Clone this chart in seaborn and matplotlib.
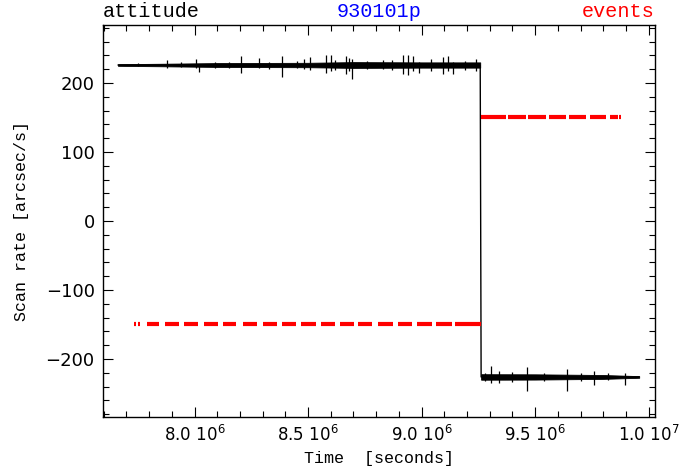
import numpy as np
import pandas as pd
import matplotlib
matplotlib.use("Agg")
import matplotlib.pyplot as plt
import seaborn as sns
from matplotlib.ticker import FixedLocator, MultipleLocator

# ---------------- data (times in units of 1e6 s) ----------------
# attitude scan rate: main trace (level before / after the turn-over)
att_time = [7.663, 9.258, 9.262, 9.958]
att_rate = [226.0, 226.0, -226.0, -226.0]

# noise band of the attitude trace (breakpoints and half-width, arcsec/s)
band_time_top = [7.663, 7.85, 8.10, 8.50, 8.70, 9.00, 9.258]
band_half_top = [1.2, 1.8, 2.8, 3.2, 4.2, 3.8, 3.8]
band_time_bot = [9.262, 9.50, 9.80, 9.958]
band_half_bot = [4.0, 3.8, 2.8, 1.2]

# spikes of the attitude trace: time, lowest and highest value
spike_time = [7.750, 7.880, 7.940, 8.005, 8.020, 8.090, 8.150, 8.204, 8.284, 8.330,
              8.387, 8.450, 8.482, 8.509, 8.578, 8.600, 8.620, 8.666, 8.680, 8.695,
              8.760, 8.830, 8.870, 8.916, 8.938, 8.960, 8.989, 9.040, 9.092, 9.114,
              9.136, 9.190, 9.239,
              9.280, 9.305, 9.342, 9.400, 9.466, 9.540, 9.638, 9.700, 9.760, 9.820,
              9.895]
spike_low = [224, 222, 223, 221, 216, 222, 222, 215, 221, 220,
             208.6, 221, 220, 219, 214, 218, 219, 212.5, 217, 206,
             220, 220, 219, 212.5, 211.5, 218, 214, 218, 212.5, 218,
             212.5, 219, 218,
             -232, -235, -235, -233, -246, -232, -247, -232, -238, -231,
             -238]
spike_high = [229, 233, 230, 234, 228, 231, 231, 239, 236.6, 231,
              239, 232, 235, 237.6, 240, 240.5, 233, 239, 236, 234,
              232, 233, 233, 240.5, 240.5, 239, 231, 234, 237.6, 239,
              230, 232, 235,
              -220, -210, -218, -219, -212, -220, -215, -220, -217, -221,
              -221]

# events: blocks of photon events (start, end) and their scan rate
ev_start = [7.7336, 7.7525, 7.7895, 7.8688, 7.9551, 8.0419, 8.1256, 8.2137, 8.3019,
            8.3869, 8.4706, 8.5560, 8.6411, 8.7217, 8.8098, 8.8966, 8.9790, 9.0653,
            9.1477,
            9.2596, 9.3812, 9.4701, 9.5592, 9.6481, 9.7402, 9.8292, 9.8705]
ev_end = [7.7437, 7.7600, 7.8437, 7.9318, 8.0168, 8.1036, 8.1842, 8.2754, 8.3622,
          8.4486, 8.5340, 8.6190, 8.7040, 8.7834, 8.8745, 8.9596, 9.0477, 9.1358,
          9.2609,
          9.3737, 9.4583, 9.5490, 9.6336, 9.7226, 9.8115, 9.8634, 9.8780]
ev_rate = [-150] * 19 + [150] * 8

x_ticks = [8.0, 8.5, 9.0, 9.5, 10.0]
x_tick_labels = ["8.0 $10^{6}$", "8.5 $10^{6}$", "9.0 $10^{6}$",
                 "9.5 $10^{6}$", "1.0 $10^{7}$"]
y_ticks = [-200, -100, 0, 100, 200]
y_tick_labels = ["\u2212200", "\u2212100", "0", "100", "200"]

# ---------------- figure ----------------
sns.set_style("ticks")
plt.rcParams["font.family"] = ["DejaVu Sans"]
plt.rcParams["mathtext.fontset"] = "dejavusans"
plt.rcParams["text.color"] = "black"
plt.rcParams["axes.labelcolor"] = "black"
plt.rcParams["xtick.color"] = "black"
plt.rcParams["ytick.color"] = "black"

fig = plt.figure(figsize=(6.83, 4.74), dpi=100)
ax = fig.add_axes([0.1508, 0.1203, 0.808, 0.827])

S = 1e6
# attitude noise bands
ax.fill_between(np.array(band_time_top) * S,
                226 - np.array(band_half_top), 226 + np.array(band_half_top),
                color="black", lw=0.6)
ax.fill_between(np.array(band_time_bot) * S,
                -226 - np.array(band_half_bot), -226 + np.array(band_half_bot),
                color="black", lw=0.6)
# spikes
ax.vlines(np.array(spike_time) * S, spike_low, spike_high, color="black", lw=0.9)
# main attitude trace
att_df = pd.DataFrame({"t": np.array(att_time) * S, "rate": att_rate})
sns.lineplot(data=att_df, x="t", y="rate", color="black", lw=1.0,
             sort=False, estimator=None, ax=ax)

# events
ev_rows = []
for i, (s, e, r) in enumerate(zip(ev_start, ev_end, ev_rate)):
    ev_rows.append({"block": i, "t": s * S, "rate": r})
    ev_rows.append({"block": i, "t": e * S, "rate": r})
ev_df = pd.DataFrame(ev_rows)
sns.lineplot(data=ev_df, x="t", y="rate", units="block", estimator=None,
             color="red", lw=3.0, solid_capstyle="butt", ax=ax)

ax.set_xlim(7.597e6, 10.027e6)
ax.set_ylim(-284, 284)

ax.xaxis.set_major_locator(FixedLocator(np.array(x_ticks) * S))
ax.set_xticklabels(x_tick_labels)
ax.xaxis.set_minor_locator(MultipleLocator(0.1e6))
ax.yaxis.set_major_locator(FixedLocator(y_ticks))
ax.yaxis.set_minor_locator(MultipleLocator(20))
ax.set_yticklabels(y_tick_labels)

ax.tick_params(which="both", direction="in", top=True, right=True,
               color="black", labelcolor="black", width=0.8, pad=6)
ax.tick_params(axis="y", labelsize=13)
ax.tick_params(axis="x", labelsize=12)
ax.tick_params(which="major", length=7)
ax.tick_params(which="minor", length=4)
for sp in ax.spines.values():
    sp.set_visible(True)
    sp.set_linewidth(1.0)
    sp.set_color("black")

title_font = ["Liberation Mono", "DejaVu Sans Mono"]
ax.set_xlabel("Time  [seconds]", fontsize=12, family=title_font, labelpad=4,
              color="black")
ax.set_ylabel("Scan rate [arcsec/s]", fontsize=12, family=title_font,
              labelpad=12, color="black")

ax.text(0.0, 1.01, "attitude", transform=ax.transAxes, ha="left", va="bottom",
        fontsize=14.5, family=title_font, color="black")
ax.text(0.5, 1.01, "930101p", transform=ax.transAxes, ha="center", va="bottom",
        fontsize=14.5, family=title_font, color="blue")
ax.text(1.0, 1.01, "events", transform=ax.transAxes, ha="right", va="bottom",
        fontsize=14.5, family=title_font, color="red")

fig.savefig("out.png", dpi=100)
